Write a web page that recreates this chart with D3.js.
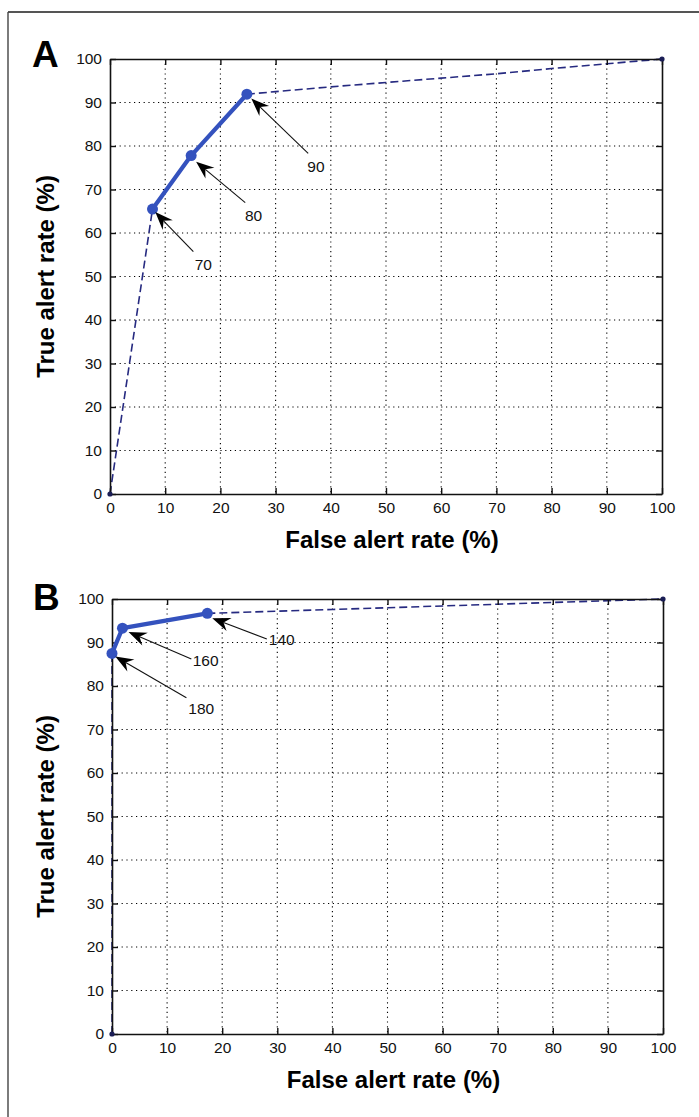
<!DOCTYPE html>
<html>
<head>
<meta charset="utf-8">
<script src="https://cdn.jsdelivr.net/npm/d3@7"></script>
<style>
  body { margin: 0; background: #fff; }
  svg { display: block; font-family: "Liberation Sans", Arial, Helvetica, sans-serif; }
</style>
</head>
<body>
<div id="chart"></div>
<script>
// tick values shared by both panels
var ticks = [0, 10, 20, 30, 40, 50, 60, 70, 80, 90, 100];

// panel A (false alert rate, true alert rate)
var aDashLow  = [[0, 0], [7.7, 65.5]];
var aSolid    = [[7.7, 65.5], [14.7, 77.8], [24.8, 91.9]];
var aDashHigh = [[24.8, 91.9], [30, 92.5], [40, 93.6], [50, 94.6], [60, 95.6], [70, 96.6], [80, 97.8], [90, 98.9], [100, 100]];
var aEnds     = [[0, 0], [100, 100]];
// annotation: label, tip, tail, label position (data units)
var aNotes = [
  {text: "70", tip: [8.2, 64.8], tail: [15.1, 55.7], pos: [16.9, 52.8]},
  {text: "80", tip: [15.6, 76.4], tail: [24.5, 67.0], pos: [26.0, 64.1]},
  {text: "90", tip: [25.6, 90.9], tail: [35.9, 78.3], pos: [37.3, 75.4]}
];

// panel B
var bDashLow  = [[0, 0], [0, 87.5]];
var bSolid    = [[0, 87.5], [1.9, 93.3], [17.3, 96.7]];
var bDashHigh = [[17.3, 96.7], [30, 97.2], [40, 97.6], [50, 98], [60, 98.4], [70, 98.8], [80, 99.2], [90, 99.6], [100, 100]];
var bEnds     = [[0, 0], [100, 100]];
var bNotes = [
  {text: "140", tip: [18.2, 95.6], tail: [28.1, 90.8], pos: [30.8, 90.6]},
  {text: "160", tip: [3.0, 92.4], tail: [14.4, 86.2], pos: [17.0, 85.9]},
  {text: "180", tip: [0.6, 86.8], tail: [13.5, 77.3], pos: [16.2, 74.9]}
];

var width = 699, height = 1117;
var svg = d3.select("#chart").append("svg")
    .attr("width", width)
    .attr("height", height);

// outer frame (only top and left visible)
svg.append("line").attr("x1", 8).attr("y1", 12).attr("x2", width).attr("y2", 12)
    .attr("stroke", "#555").attr("stroke-width", 2.2);
svg.append("line").attr("x1", 8).attr("y1", 12).attr("x2", 8).attr("y2", height)
    .attr("stroke", "#444").attr("stroke-width", 1.4);

var solidBlue = "#3452be";
var dashNavy = "#262a80";

function drawPanel(p) {
    var x = d3.scaleLinear().domain([0, 100]).range([p.left, p.right]);
    var y = d3.scaleLinear().domain([0, 100]).range([p.bottom, p.top]);
    var g = svg.append("g");

    // dotted grid
    g.selectAll(".gx").data(ticks.slice(1, -1)).join("line")
        .attr("x1", d => x(d)).attr("x2", d => x(d))
        .attr("y1", p.top).attr("y2", p.bottom)
        .attr("stroke", "#000").attr("stroke-width", 1.1)
        .attr("stroke-dasharray", "1.2,3.6");
    g.selectAll(".gy").data(ticks.slice(1, -1)).join("line")
        .attr("x1", p.left).attr("x2", p.right)
        .attr("y1", d => y(d)).attr("y2", d => y(d))
        .attr("stroke", "#000").attr("stroke-width", 1.1)
        .attr("stroke-dasharray", "1.2,3.6");

    var line = d3.line().x(d => x(d[0])).y(d => y(d[1]));

    // dashed segments (under the axes)
    [p.dashLow, p.dashHigh].forEach(function(seg) {
        g.append("path").datum(seg)
            .attr("d", line)
            .attr("fill", "none")
            .attr("stroke", dashNavy)
            .attr("stroke-width", 1.6)
            .attr("stroke-dasharray", "8,4");
    });

    // axes with inward ticks on all four sides
    var axB = g.append("g").attr("transform", `translate(0,${p.bottom})`)
        .call(d3.axisBottom(x).tickValues(ticks).tickSizeInner(-6).tickSizeOuter(0).tickPadding(8));
    var axT = g.append("g").attr("transform", `translate(0,${p.top})`)
        .call(d3.axisTop(x).tickValues(ticks).tickSizeInner(-6).tickSizeOuter(0).tickFormat(""));
    var axL = g.append("g").attr("transform", `translate(${p.left},0)`)
        .call(d3.axisLeft(y).tickValues(ticks).tickSizeInner(-6).tickSizeOuter(0).tickPadding(8));
    var axR = g.append("g").attr("transform", `translate(${p.right},0)`)
        .call(d3.axisRight(y).tickValues(ticks).tickSizeInner(-6).tickSizeOuter(0).tickFormat(""));
    [axB, axT, axL, axR].forEach(function(a) {
        a.select(".domain").attr("stroke", "#111").attr("stroke-width", 1.6);
        a.selectAll(".tick line").attr("stroke", "#111").attr("stroke-width", 1.4);
        a.selectAll("text").attr("font-size", 15.5).attr("fill", "#111")
            .attr("font-family", "Liberation Sans, Arial, sans-serif");
    });

    // solid thick segment
    g.append("path").datum(p.solid)
        .attr("d", line)
        .attr("fill", "none")
        .attr("stroke", solidBlue)
        .attr("stroke-width", 4.2)
        .attr("stroke-linejoin", "round");
    g.selectAll(".pt").data(p.solid).join("circle")
        .attr("cx", d => x(d[0])).attr("cy", d => y(d[1]))
        .attr("r", 5.5).attr("fill", solidBlue);

    // small end dots
    g.selectAll(".end").data(p.ends).join("circle")
        .attr("cx", d => x(d[0])).attr("cy", d => y(d[1]))
        .attr("r", 2.6).attr("fill", "#1a1d55");

    // arrows and labels
    p.notes.forEach(function(n) {
        var tx = x(n.tip[0]), ty = y(n.tip[1]);
        var sx = x(n.tail[0]), sy = y(n.tail[1]);
        var ang = Math.atan2(ty - sy, tx - sx);
        var len = 18, half = 7, notch = 12;
        var ca = Math.cos(ang), sa = Math.sin(ang);
        var bx = tx - len * ca, by = ty - len * sa;
        var nx = tx - notch * ca, ny = ty - notch * sa;
        g.append("line")
            .attr("x1", sx).attr("y1", sy).attr("x2", nx).attr("y2", ny)
            .attr("stroke", "#111").attr("stroke-width", 1.1);
        g.append("path")
            .attr("d", `M${tx},${ty}L${bx - half * sa},${by + half * ca}L${nx},${ny}L${bx + half * sa},${by - half * ca}Z`)
            .attr("fill", "#000");
        g.append("text")
            .attr("x", x(n.pos[0])).attr("y", y(n.pos[1]))
            .attr("text-anchor", "middle")
            .attr("dominant-baseline", "central")
            .attr("font-size", 15.5)
            .attr("fill", "#111")
            .text(n.text);
    });

    // axis titles
    g.append("text")
        .attr("x", (p.left + p.right) / 2 + 6)
        .attr("y", p.bottom + 54)
        .attr("text-anchor", "middle")
        .attr("font-weight", "bold")
        .attr("font-size", 24)
        .text("False alert rate (%)");
    var cy = (p.top + p.bottom) / 2;
    g.append("text")
        .attr("x", 54).attr("y", cy)
        .attr("text-anchor", "middle")
        .attr("font-weight", "bold")
        .attr("font-size", 24)
        .attr("transform", `rotate(-90,54,${cy})`)
        .text("True alert rate (%)");

    // panel letter
    g.append("text")
        .attr("x", p.letterX).attr("y", p.letterY)
        .attr("font-weight", "bold")
        .attr("font-size", 37)
        .text(p.letter);
}

drawPanel({left: 110, right: 662, top: 59, bottom: 494,
    dashLow: aDashLow, solid: aSolid, dashHigh: aDashHigh, ends: aEnds, notes: aNotes,
    letter: "A", letterX: 32, letterY: 67});
drawPanel({left: 112, right: 663, top: 599, bottom: 1034,
    dashLow: bDashLow, solid: bSolid, dashHigh: bDashHigh, ends: bEnds, notes: bNotes,
    letter: "B", letterX: 33, letterY: 610});
</script>
</body>
</html>
